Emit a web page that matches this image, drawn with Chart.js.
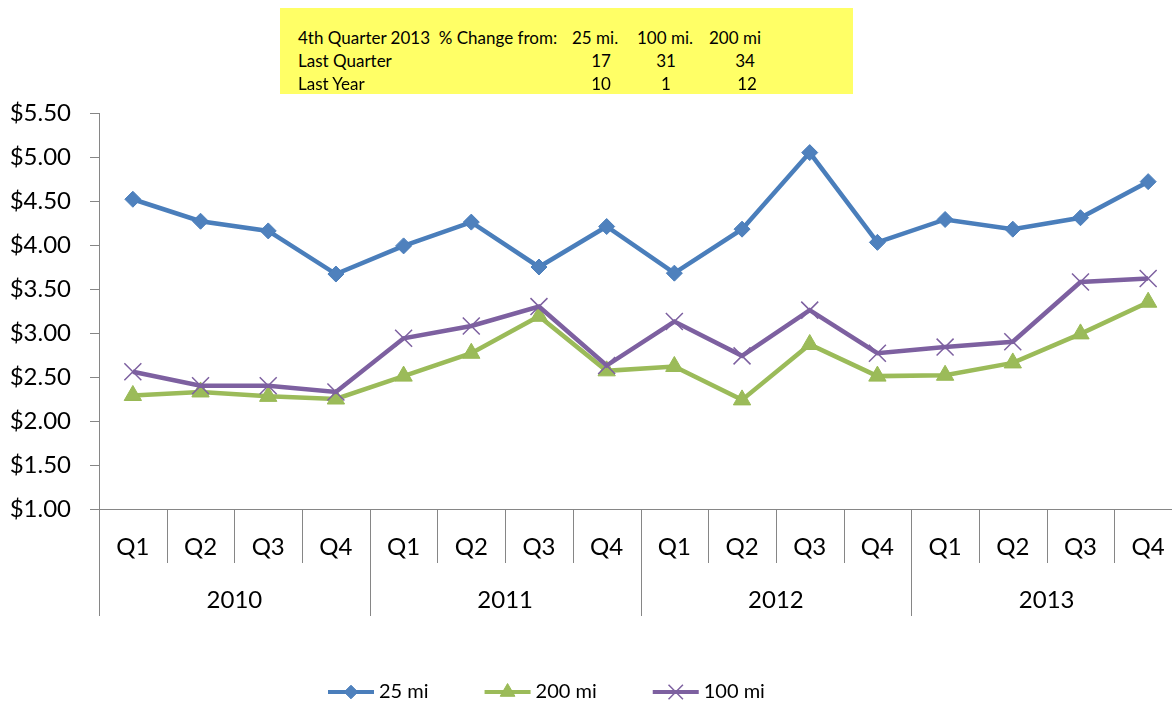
<!DOCTYPE html>
<html>
<head>
<meta charset="utf-8">
<script src="https://cdn.jsdelivr.net/npm/chart.js"></script>
<style>
  html, body { margin: 0; padding: 0; overflow: hidden; background: #fff; }
  #wrap { position: relative; width: 1200px; height: 706px; }
  #box {
    position: absolute; left: 280px; top: 8px; width: 573px; height: 86px;
    background: #ffff66; font-family: Lato, sans-serif; font-size: 17px; color: #000;
  }
  #box span { position: absolute; white-space: nowrap; line-height: 23px; }
  #box .c { transform: translateX(-50%); }
</style>
</head>
<body>
<div id="wrap">
  <canvas id="chart" width="1200" height="706"></canvas>
  <div id="box">
    <span style="left:18px;top:18px">4th Quarter 2013&nbsp;&nbsp;% Change from:</span>
    <span style="left:292px;top:18px">25 mi.</span>
    <span style="left:357px;top:18px">100 mi.</span>
    <span style="left:429px;top:18px">200 mi</span>
    <span style="left:18px;top:41px">Last Quarter</span>
    <span class="c" style="left:321px;top:41px">17</span>
    <span class="c" style="left:386px;top:41px">31</span>
    <span class="c" style="left:465px;top:41px">34</span>
    <span style="left:18px;top:64px">Last Year</span>
    <span class="c" style="left:321px;top:64px">10</span>
    <span class="c" style="left:386px;top:64px">1</span>
    <span class="c" style="left:467px;top:64px">12</span>
  </div>
</div>
<script>
// data
const quarters = ["Q1","Q2","Q3","Q4","Q1","Q2","Q3","Q4","Q1","Q2","Q3","Q4","Q1","Q2","Q3","Q4"];
const years = ["2010","2011","2012","2013"];
const mi25  = [4.52,4.27,4.16,3.67, 3.99,4.26,3.75,4.21, 3.68,4.18,5.05,4.03, 4.29,4.18,4.31,4.72];
const mi200 = [2.29,2.33,2.28,2.25, 2.51,2.77,3.19,2.57, 2.62,2.24,2.87,2.51, 2.52,2.66,2.99,3.35];
const mi100 = [2.56,2.40,2.40,2.33, 2.94,3.08,3.30,2.63, 3.13,2.74,3.26,2.77, 2.84,2.90,3.58,3.62];

const FONT = "Lato, sans-serif";
const AXIS = "#868686";

// two level category axis + legend, drawn by hand
const bottomAxis = {
  id: "bottomAxis",
  afterDraw(chart) {
    const ctx = chart.ctx;
    const xs = chart.scales.x;
    const area = chart.chartArea;
    const step = xs.getPixelForValue(1) - xs.getPixelForValue(0);
    const y0 = area.bottom;
    ctx.save();
    ctx.strokeStyle = AXIS;
    ctx.lineWidth = 1;
    for (let i = 0; i <= quarters.length; i++) {
      const bx = Math.round(xs.getPixelForValue(i) - step / 2) + 0.5;
      const len = (i % 4 == 0) ? 107 : 54;
      ctx.beginPath();
      ctx.moveTo(bx, y0);
      ctx.lineTo(bx, y0 + len);
      ctx.stroke();
    }
    ctx.fillStyle = "#000";
    ctx.font = "24px " + FONT;
    ctx.textAlign = "center";
    ctx.textBaseline = "middle";
    quarters.forEach((q, i) => ctx.fillText(q, xs.getPixelForValue(i), y0 + 38));
    years.forEach((yr, j) => {
      const cx = (xs.getPixelForValue(j * 4) + xs.getPixelForValue(j * 4 + 3)) / 2;
      ctx.fillText(yr, cx, y0 + 91);
    });

    // legend
    ctx.font = "20px " + FONT;
    ctx.textAlign = "left";
    let lx = 328;
    const ly = 692;
    chart.data.datasets.forEach((ds) => {
      ctx.strokeStyle = ds.borderColor;
      ctx.lineWidth = 4;
      ctx.beginPath();
      ctx.moveTo(lx, ly);
      ctx.lineTo(lx + 46, ly);
      ctx.stroke();
      ctx.fillStyle = ds.pointBackgroundColor;
      ctx.strokeStyle = ds.pointBorderColor;
      ctx.lineWidth = ds.pointBorderWidth;
      Chart.helpers.drawPoint(ctx, {
        pointStyle: ds.pointStyle,
        radius: ds.pointRadius * 0.85,
        borderWidth: ds.pointBorderWidth,
        rotation: 0
      }, lx + 23, ly);
      ctx.fillStyle = "#000";
      ctx.fillText(ds.label, lx + 51, ly);
      lx += 51 + ctx.measureText(ds.label).width + 56;
    });
    ctx.restore();
  }
};

new Chart(document.getElementById("chart"), {
  type: "line",
  data: {
    labels: quarters,
    datasets: [
      {
        label: "25 mi", data: mi25, order: 2,
        borderColor: "#4a7ebb", borderWidth: 4.5,
        pointStyle: "rectRot", pointRadius: 8,
        pointBackgroundColor: "#4f81bd", pointBorderColor: "#4a7ebb", pointBorderWidth: 1
      },
      {
        label: "200 mi", data: mi200, order: 1,
        borderColor: "#9bbb59", borderWidth: 4.5,
        pointStyle: "triangle", pointRadius: 10,
        pointBackgroundColor: "#9bbb59", pointBorderColor: "#98b954", pointBorderWidth: 1
      },
      {
        label: "100 mi", data: mi100, order: 0,
        borderColor: "#7d60a0", borderWidth: 4.5,
        pointStyle: "crossRot", pointRadius: 12,
        pointBackgroundColor: "#8064a2", pointBorderColor: "#7d60a0", pointBorderWidth: 1.5
      }
    ]
  },
  options: {
    responsive: false,
    animation: false,
    layout: { padding: { top: 113, right: 18, left: 0, bottom: 0 } },
    plugins: { legend: { display: false }, tooltip: { enabled: false } },
    scales: {
      x: {
        offset: true,
        grid: { display: false },
        border: { display: true, color: AXIS, width: 1 },
        ticks: { display: false },
        afterFit: (s) => { s.height = 197; }
      },
      y: {
        min: 1, max: 5.5,
        grid: { drawOnChartArea: false, drawTicks: true, tickLength: 9, color: AXIS },
        border: { display: true, color: AXIS, width: 1 },
        ticks: {
          stepSize: 0.5, padding: 19, color: "#000",
          font: { family: FONT, size: 24 },
          callback: (v) => "$" + v.toFixed(2)
        },
        afterFit: (s) => { s.width = 99; }
      }
    }
  },
  plugins: [bottomAxis]
});
</script>
</body>
</html>
